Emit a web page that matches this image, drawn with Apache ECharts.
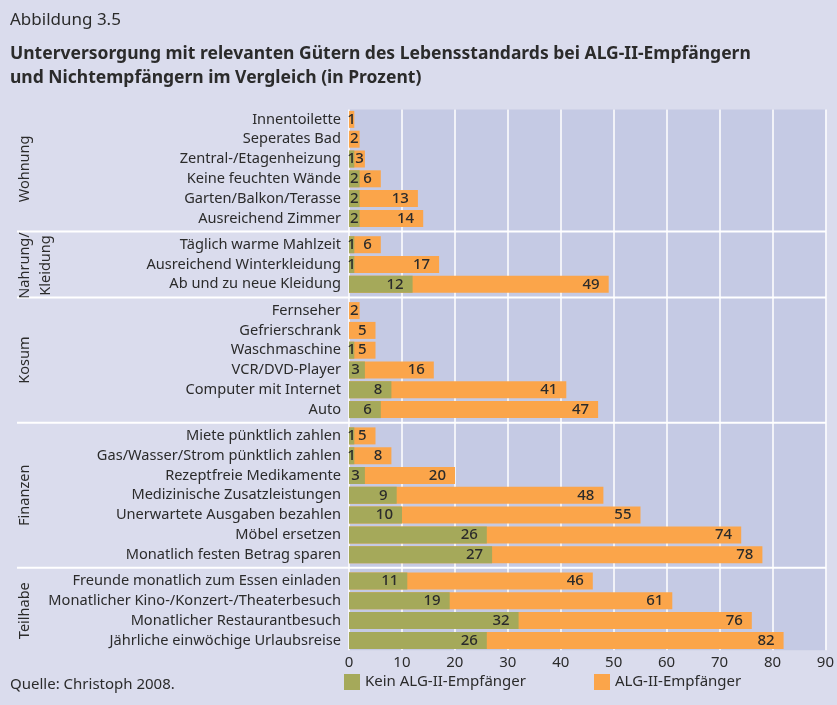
<!DOCTYPE html>
<html><head><meta charset="utf-8">
<script src="https://cdn.jsdelivr.net/npm/echarts@6/dist/echarts.min.js"></script>
<style>html,body{margin:0;padding:0;background:#dadced;}#c{width:837px;height:705px;}</style>
</head><body><div id="c"></div>
<script>
const groupNames = ['Wohnung', 'Nahrung/\nKleidung', 'Kosum', 'Finanzen', 'Teilhabe'];
const wohnungCats = ['Innentoilette','Seperates Bad','Zentral-/Etagenheizung','Keine feuchten Wände','Garten/Balkon/Terasse','Ausreichend Zimmer'];
const wohnungKein = [null, null, 1, 2, 2, 2];
const wohnungALG  = [1, 2, 3, 6, 13, 14];
const nahrungCats = ['Täglich warme Mahlzeit','Ausreichend Winterkleidung','Ab und zu neue Kleidung'];
const nahrungKein = [1, 1, 12];
const nahrungALG  = [6, 17, 49];
const kosumCats = ['Fernseher','Gefrierschrank','Waschmaschine','VCR/DVD-Player','Computer mit Internet','Auto'];
const kosumKein = [null, null, 1, 3, 8, 6];
const kosumALG  = [2, 5, 5, 16, 41, 47];
const finanzenCats = ['Miete pünktlich zahlen','Gas/Wasser/Strom pünktlich zahlen','Rezeptfreie Medikamente','Medizinische Zusatzleistungen','Unerwartete Ausgaben bezahlen','Möbel ersetzen','Monatlich festen Betrag sparen'];
const finanzenKein = [1, 1, 3, 9, 10, 26, 27];
const finanzenALG  = [5, 8, 20, 48, 55, 74, 78];
const teilhabeCats = ['Freunde monatlich zum Essen einladen','Monatlicher Kino-/Konzert-/Theaterbesuch','Monatlicher Restaurantbesuch','Jährliche einwöchige Urlaubsreise'];
const teilhabeKein = [11, 19, 32, 26];
const teilhabeALG  = [46, 61, 76, 82];
const xTicks = [0, 10, 20, 30, 40, 50, 60, 70, 80, 90];
const seriesNames = ['Kein ALG-II-Empfänger', 'ALG-II-Empfänger'];

const groups = [
  {name: groupNames[0], cats: wohnungCats, kein: wohnungKein, alg: wohnungALG},
  {name: groupNames[1], cats: nahrungCats, kein: nahrungKein, alg: nahrungALG},
  {name: groupNames[2], cats: kosumCats, kein: kosumKein, alg: kosumALG},
  {name: groupNames[3], cats: finanzenCats, kein: finanzenKein, alg: finanzenALG},
  {name: groupNames[4], cats: teilhabeCats, kein: teilhabeKein, alg: teilhabeALG}
];

const FONT = 'Noto Sans';
const TXT = '#2b2b2b';
const GREEN = '#a5a95a';
const ORANGE = '#fba54a';
const W = 837, H = 705;
const plotLeft = 349, plotRight = 826, plotTop = 109.5, plotBottom = 650.2;
const rowH = 19.8, gapH = 6.5;

const grids = [], xAxes = [], yAxes = [], series = [], graphics = [];
grids.push({left: plotLeft, right: W - plotRight, top: plotTop, bottom: H - plotBottom, show: true, backgroundColor: '#c5cae4', borderWidth: 0});
xAxes.push({gridIndex: 0, type: 'value', min: xTicks[0], max: xTicks[xTicks.length-1], interval: xTicks[1]-xTicks[0],
  axisLine: {show: false}, axisTick: {show: false},
  splitLine: {show: true, lineStyle: {color: '#ffffff', width: 1.5}},
  axisLabel: {color: TXT, fontFamily: FONT, fontSize: 15, margin: 5}});
yAxes.push({gridIndex: 0, type: 'category', data: [''], show: false});

function lbl(v, green) {
  if (v == null) return {show: false};
  if (v <= 2) return {show: true, position: 'inside'};
  if (v === 3) return {show: true, position: 'insideRight', distance: green ? 5 : 1};
  return {show: true, position: 'insideRight', distance: 9};
}

let y = plotTop;
groups.forEach((g, i) => {
  const gi = i + 1;
  const h = g.cats.length * rowH;
  grids.push({left: plotLeft, right: W - plotRight, top: y, height: h});
  xAxes.push({gridIndex: gi, type: 'value', min: xTicks[0], max: xTicks[xTicks.length-1], show: false, splitLine: {show: false}});
  yAxes.push({gridIndex: gi, type: 'category', inverse: true, data: g.cats,
    axisLine: {show: false}, axisTick: {show: false}, splitLine: {show: false},
    axisLabel: {color: TXT, fontFamily: FONT, fontSize: 14.6, margin: 8}});
  const common = {type: 'bar', xAxisIndex: gi, yAxisIndex: gi, barWidth: 17, barGap: '-100%',
    label: {color: TXT, fontFamily: FONT, fontSize: 15, fontWeight: 500}};
  series.push(Object.assign({}, common, {name: seriesNames[1], itemStyle: {color: ORANGE},
    data: g.alg.map(v => ({value: v, label: lbl(v, false)}))}));
  series.push(Object.assign({}, common, {name: seriesNames[0], itemStyle: {color: GREEN},
    data: g.kein.map(v => ({value: v, label: lbl(v, true)}))}));
  const multi = g.name.indexOf('\n') >= 0;
  graphics.push({type: 'text', x: multi ? 35.5 : 25, y: y + h / 2 + (multi ? 1 : 0), rotation: Math.PI / 2, z: 20,
    style: {text: g.name, fill: TXT, font: '14.5px "' + FONT + '"', textAlign: 'center', textVerticalAlign: 'middle', lineHeight: 21}});
  y += h;
  if (i < groups.length - 1) {
    graphics.push({type: 'line', z: 10, shape: {x1: 17, y1: y + gapH / 2, x2: plotRight, y2: y + gapH / 2},
      style: {stroke: '#ffffff', lineWidth: 2}});
    y += gapH;
  }
});

graphics.push({type: 'text', x: 10, y: 685, style: {text: 'Quelle: Christoph 2008.', fill: TXT, font: '15px "' + FONT + '"', textVerticalAlign: 'middle'}});

const chart = echarts.init(document.getElementById('c'), null, {renderer: 'canvas'});
chart.setOption({
  backgroundColor: '#dadced',
  animation: false,
  title: [
    {text: 'Abbildung 3.5', left: 10, top: 12, padding: 0, textStyle: {color: TXT, fontFamily: FONT, fontSize: 17, fontWeight: 'normal'}},
    {text: 'Unterversorgung mit relevanten Gütern des Lebensstandards bei ALG-II-Empfängern\nund Nichtempfängern im Vergleich (in Prozent)', left: 10, top: 42, padding: 0,
      textStyle: {color: TXT, fontFamily: FONT, fontSize: 17.5, fontWeight: 'bold', lineHeight: 24}}
  ],
  legend: [
    {data: [seriesNames[0]], left: 344, top: 674, padding: 0, itemWidth: 16, itemHeight: 16, itemGap: 8, icon: 'rect',
      textStyle: {color: TXT, fontFamily: FONT, fontSize: 15}},
    {data: [seriesNames[1]], left: 594, top: 674, padding: 0, itemWidth: 16, itemHeight: 16, itemGap: 8, icon: 'rect',
      textStyle: {color: TXT, fontFamily: FONT, fontSize: 15}}
  ],
  grid: grids, xAxis: xAxes, yAxis: yAxes, series: series, graphic: graphics
});
</script></body></html>
